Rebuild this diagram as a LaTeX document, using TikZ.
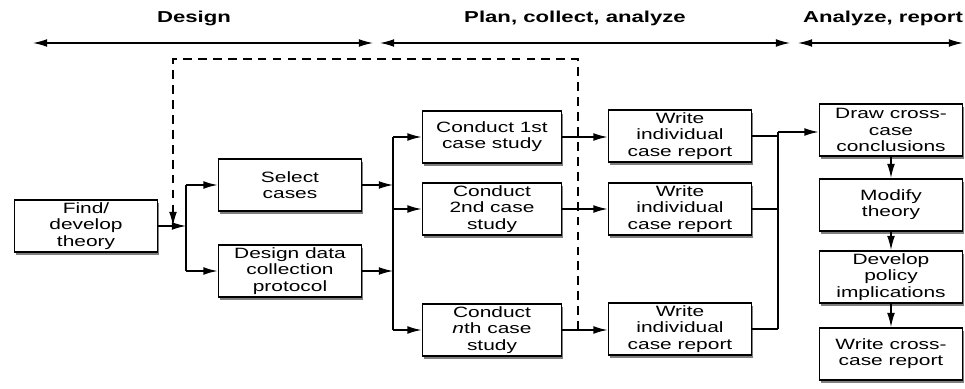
\documentclass[tikz,border=0pt]{standalone}
\usepackage{fontspec}
\setmainfont{Liberation Sans}[FakeStretch=1.4]
\usetikzlibrary{shapes.misc,calc,positioning,arrows.meta,shadows}

\begin{document}
\begin{tikzpicture}[
	%	style def
    scale=1,
    stage box/.style={draw, line width=1.1pt, fill=white, align=center,
        minimum width=2.86cm, minimum height=1.04cm, inner sep=1pt,
        font=\fontsize{8.5}{9.2}\selectfont,
        drop shadow={shadow xshift=1.1pt, shadow yshift=-1.6pt, fill=black, opacity=0.5}},
    study box/.style={stage box, minimum width=2.78cm},
    flow line/.style={line width=0.75pt},
    flow arrow/.style={line width=0.75pt, -{Latex[length=8pt,width=4.4pt]}},
    phase arrow/.style={line width=0.7pt, {Latex[length=8pt,width=4.4pt]}-{Latex[length=8pt,width=4.4pt]}},
    phase label/.style={font=\fontsize{9}{10}\selectfont\bfseries},
    every node/.style={color=black}
    ]
    \useasboundingbox (0,0) rectangle (19.3,7.76);

	% phases along the top
	\node[phase label] (design) at (3.88,7.40) {Design};
	\node[phase label] (plan) at (11.5,7.40) {Plan, collect, analyze};
	\node[phase label] (analyze) at (17.66,7.40) {Analyze, report};
	\draw[phase arrow] (0.66,6.90) coordinate (d1) -- (7.46,6.90) coordinate (d2);
	\draw[phase arrow] (7.60,6.90) coordinate (p1) -- (15.80,6.90) coordinate (p2);
	\draw[phase arrow] (15.96,6.90) coordinate (r1) -- (19.26,6.90) coordinate (r2);

	% design boxes
	\node[stage box] (theory) at (1.72,3.24) {Find/\\develop\\theory};
	\node[stage box] (select) at (5.80,4.06) {Select\\cases};
	\node[stage box] (protocol) at (5.80,2.34) {Design data\\collection\\protocol};

	% case studies and their reports
	\node[study box] (study1) at (9.84,5.02) {Conduct 1st\\case study};
	\node[study box] (study2) at (9.84,3.58) {Conduct\\2nd case\\study};
	\node[study box] (studyn) at (9.84,1.16) {Conduct\\\textit{n}th case\\study};
	\node[stage box] (report1) at (13.60,5.04) {Write\\individual\\case report};
	\node[stage box] (report2) at (13.60,3.58) {Write\\individual\\case report};
	\node[stage box] (reportn) at (13.60,1.18) {Write\\individual\\case report};

	% cross-case column
	\node[stage box] (conclude) at (17.82,5.16) {Draw cross-\\case\\conclusions};
	\node[stage box] (modify) at (17.82,3.66) {Modify\\theory};
	\node[stage box] (policy) at (17.82,2.22) {Develop\\policy\\implications};
	\node[stage box] (crossreport) at (17.82,0.68) {Write cross-\\case report};

	% theory splits into cases and protocol
	\coordinate (split1) at (3.72,3.24);
	\draw[flow arrow] (theory.east) -- (split1);
	\draw[flow line] (split1 |- select) -- (split1 |- protocol);
	\draw[flow arrow] (split1 |- select) -- (select.west);
	\draw[flow arrow] (split1 |- protocol) -- (protocol.west);

	% both feed the case studies
	\coordinate (split2) at (7.86,3.58);
	\draw[flow arrow] (select.east) -- (select.east -| split2);
	\draw[flow arrow] (protocol.east) -- (protocol.east -| split2);
	\draw[flow line] (split2 |- study1) -- (split2 |- studyn);
	\foreach \s in {study1,study2,studyn}
	    \draw[flow arrow] (split2 |- \s) -- (\s.west);
	\foreach \s/\r in {study1/report1,study2/report2,studyn/reportn}
	    \draw[flow arrow] (\s.east) -- (\s.east -| \r.west);

	% reports merge into cross-case conclusions
	\coordinate (merge) at (15.56,5.12);
	\foreach \r in {report1,report2,reportn}
	    \draw[flow line] (\r.east) -- (\r.east -| merge);
	\draw[flow line] (merge) -- (merge |- reportn.east);
	\draw[flow arrow] (merge) -- (merge -| conclude.west);
	\draw[flow arrow] (conclude) -- (modify);
	\draw[flow arrow] (modify) -- (policy);
	\draw[flow arrow] (policy) -- (crossreport);

	% dashed feedback back to the design
	\draw[flow arrow, dash pattern=on 5pt off 3.5pt] (11.56,1.16) coordinate (fbstart)
	    -- (11.56,6.58) -- (3.46,6.58) -- (3.46,3.24) coordinate (fbend);
\end{tikzpicture}
\end{document}
